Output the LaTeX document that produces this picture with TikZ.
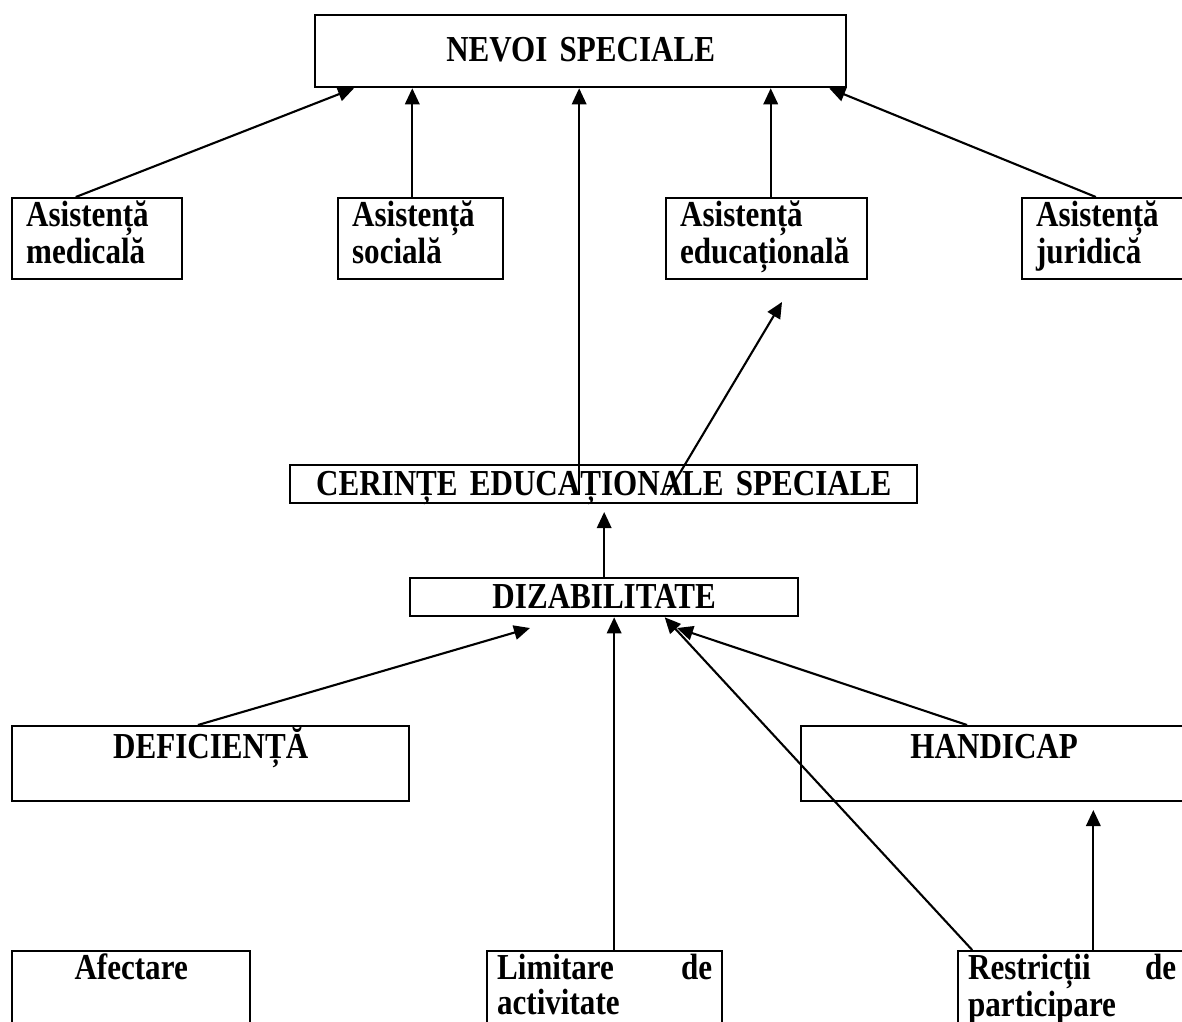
\documentclass[tikz,border=0pt]{standalone}
\usepackage{fontspec}
\setmainfont{Liberation Serif}[FakeStretch=0.85]
\usetikzlibrary{arrows.meta,calc}
\hyphenpenalty=10000
\tikzset{
  every picture/.style={font=\bfseries\fontsize{26}{24.5}\selectfont},
  box/.style={draw,line width=1.6pt,anchor=north west,inner xsep=0.35cm,inner ysep=0pt},
  helpbox/.style={box,text height=0.72cm,text depth=1.305cm,align=left},
  strip/.style={box,text height=0.75cm,text depth=0.2cm,align=center},
  lowbox/.style={box,text height=0.72cm,text depth=1.5cm},
  arr/.style={draw,line width=1.5pt,-{Triangle[length=0.4cm,width=0.36cm]}},
}

\begin{document}
\begin{tikzpicture}[x=0.025cm,y=-0.025cm]
  \path[use as bounding box] (0,0) rectangle (1182,1021);
  % top level
  \node[box,align=center,text width=12.575cm,text height=1.15cm,text depth=0.65cm]
    (nevoi) at (314,14) {NEVOI SPECIALE};
  % the four kinds of assistance
  \node[helpbox,text width=3.55cm] (medicala) at (11,197) {Asistență\\medicală};
  \node[helpbox,text width=3.425cm] (sociala) at (337,197) {Asistență\\socială};
  \node[helpbox,text width=4.325cm] (educ) at (665,197) {Asistență\\educațională};
  \node[helpbox,text width=4.3cm] (juridica) at (1021,197) {Asistență\\juridică};
  % middle
  \node[strip,text width=14.975cm] (ces) at (289,464) {CERINȚE EDUCAȚIONALE SPECIALE};
  \node[strip,text width=9cm] (diz) at (409,577) {DIZABILITATE};
  \node[box,align=center,text width=9.225cm,text height=0.8cm,text depth=1.075cm]
    (defic) at (11,725) {DEFICIENȚĂ};
  \node[box,align=center,text width=8.95cm,text height=0.8cm,text depth=1.075cm]
    (handi) at (800,725) {HANDICAP};
  % bottom row, cut by the page edge
  \node[lowbox,align=center,text width=5.25cm] (afect) at (11,950) {Afectare};
  \node[lowbox,align=left,inner xsep=0.25cm,text width=5.375cm]
    (limit) at (486,950) {Limitare\hfill de\\activitate};
  \node[lowbox,align=left,inner xsep=0.25cm,text width=5.2cm]
    (restr) at (957,950) {Restricții\hfill de\\participare};

  % free arrow ends
  \coordinate (edutip) at (782,302);
  \coordinate (cestip) at (602,512);
  \coordinate (deftip) at (530,628);
  \coordinate (handtip) at (677,628);
  \coordinate (handin) at (1092,810);

  \coordinate (socA) at ($(sociala.north west)!0.45!(sociala.north east)$);
  \coordinate (eduA) at ($(educ.north west)!0.52!(educ.north east)$);
  \coordinate (cesA) at ($(ces.base west)!0.461!(ces.base east)$);
  \coordinate (limA) at ($(limit.north west)!0.54!(limit.north east)$);
  \coordinate (resA) at ($(restr.north west)!0.592!(restr.north east)$);

  \draw[arr] ($(medicala.north west)!0.376!(medicala.north east)$)
    -- ($(nevoi.south west)!0.075!(nevoi.south east)$);
  \draw[arr] (socA) -- (socA |- nevoi.south);
  \draw[arr] (cesA) -- (cesA |- nevoi.south);
  \draw[arr] (eduA) -- (eduA |- nevoi.south);
  \draw[arr] ($(juridica.north west)!0.37!(juridica.north east)$)
    -- ($(nevoi.south west)!0.966!(nevoi.south east)$);
  \draw[arr] ($(ces.base west)!0.6!(ces.base east)$) -- (edutip);
  \draw[arr] (diz.north) -- (diz.north |- cestip);
  \draw[arr] ($(defic.north west)!0.468!(defic.north east)$) -- (deftip);
  \draw[arr] (limA) -- (limA |- diz.south);
  \draw[arr] ($(restr.north west)!0.066!(restr.north east)$)
    -- ($(diz.south west)!0.655!(diz.south east)$);
  \draw[arr] ($(handi.north west)!0.43!(handi.north east)$) -- (handtip);
  \draw[arr] (resA) -- (resA |- handin);
\end{tikzpicture}
\end{document}
